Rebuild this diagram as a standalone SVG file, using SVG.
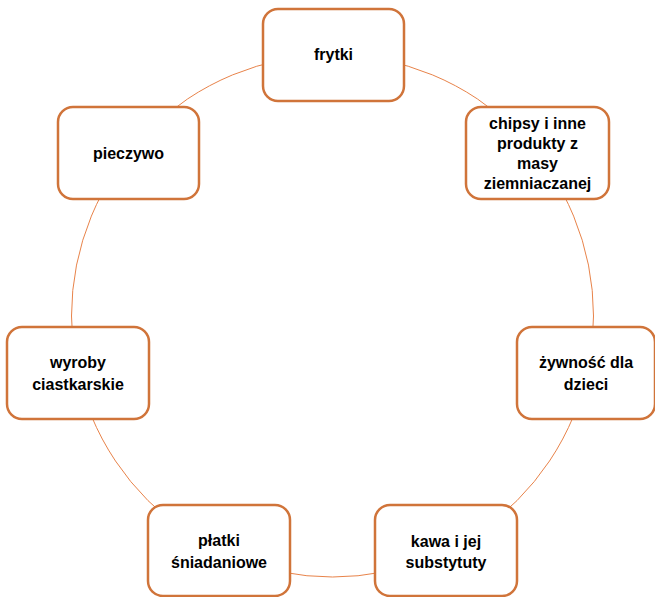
<svg xmlns="http://www.w3.org/2000/svg" width="655" height="597" viewBox="0 0 655 597">
<style>
.box{fill:#fff;stroke:#D0743A;stroke-width:2.5}
.conn{fill:none;stroke:#E8834A;stroke-width:1}
text{font-family:"Liberation Sans",Arial,sans-serif;font-weight:bold;font-size:16px;fill:#000;text-anchor:middle}
</style>
<rect width="655" height="597" fill="#fff"/>
<g id="connectors">
<circle class="conn" cx="332.5" cy="316" r="261"/>
</g>
<g id="frytki">
<rect class="box" x="263" y="9" width="141" height="92" rx="15"/>
<text x="333.5" y="60">frytki</text>
</g>
<g id="chipsy">
<rect class="box" x="466" y="107" width="143" height="92" rx="15"/>
<text x="537.5" y="129">chipsy i inne</text>
<text x="537.5" y="149">produkty z</text>
<text x="537.5" y="169">masy</text>
<text x="537.5" y="189">ziemniaczanej</text>
</g>
<g id="zywnosc">
<rect class="box" x="517" y="327" width="138" height="92" rx="15"/>
<text x="586" y="368">żywność dla</text>
<text x="586" y="390">dzieci</text>
</g>
<g id="kawa">
<rect class="box" x="375" y="505" width="142" height="91" rx="15"/>
<text x="446" y="547">kawa i jej</text>
<text x="446" y="568">substytuty</text>
</g>
<g id="platki">
<rect class="box" x="148" y="505" width="142" height="91" rx="15"/>
<text x="219" y="546">płatki</text>
<text x="219" y="568">śniadaniowe</text>
</g>
<g id="wyroby">
<rect class="box" x="7" y="327" width="142" height="92" rx="15"/>
<text x="78" y="368">wyroby</text>
<text x="78" y="390">ciastkarskie</text>
</g>
<g id="pieczywo">
<rect class="box" x="58" y="107" width="141" height="92" rx="15"/>
<text x="128.5" y="159">pieczywo</text>
</g>
</svg>
